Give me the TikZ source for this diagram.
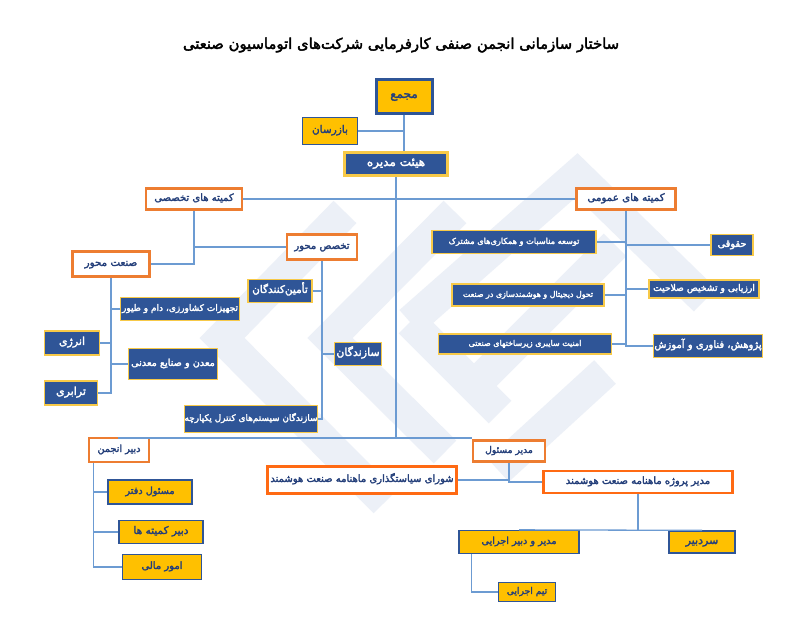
\documentclass[tikz,border=0pt]{standalone}
\usepackage{fontspec}
\usetikzlibrary{calc}
\TeXXeTstate=1
\newfontfamily\arfont[Script=Arabic, FakeBold=2.5]{DejaVu Sans}
\newcommand\fa[1]{{\arfont\beginR #1\endR}}
\definecolor{dblue}{HTML}{2F5597}
\definecolor{yel}{HTML}{FFC000}
\definecolor{gold}{HTML}{F7C948}
\definecolor{org}{HTML}{ED7D31}
\definecolor{org2}{HTML}{FF6A13}
\definecolor{lblue}{HTML}{6C9BD2}
\definecolor{txtb}{HTML}{243F7A}
\definecolor{wm}{HTML}{ECF0F7}
\tikzset{
  box/.style={inner sep=0pt, text height=0.68em, text depth=0.29em, font=\fontsize{9}{10}\selectfont},
  fs/.style={font=\fontsize{#1}{#1}\selectfont},
  yelbox/.style={box, fill=yel, draw=dblue, line width=1.3pt, text=txtb},
  blubox/.style={box, fill=dblue, draw=gold, line width=1.6pt, text=white},
  orgbox/.style={box, fill=white, draw=org, line width=2.5pt, text=txtb},
  orgbox2/.style={box, fill=white, draw=org2, line width=2.6pt, text=txtb},
  conn/.style={draw=lblue, line width=1.3pt},
  wmband/.style={draw=wm, line width=32pt, line join=miter, line cap=butt}
}
\begin{document}
\begin{tikzpicture}[x=1pt,y=-1pt]
\useasboundingbox (0,0) rectangle (800,618);
\fill[white] (0,0) rectangle (800,618);
% watermark
\draw[wmband] (345,212) -- (222,338) -- (385,502);
\draw[wmband] (455,212) -- (330,338) -- (445,452);
\draw[wmband] (410,322) -- (577,175) -- (705,300);
\draw[wmband] (410,322) -- (500,412);
\draw[wmband] (615,245) -- (485,375);
\draw[wmband] (605,372) -- (498,470);
% title
\node[fs=14.8] (title) at (401,45) {\fa{ساختار سازمانی انجمن صنفی کارفرمایی شرکت‌های اتوماسیون صنعتی}};
% nodes
\node[yelbox, fs=12, line width=3pt, minimum width=56pt, minimum height=34pt] (majma) at (404,96) {\fa{مجمع}};
\node[yelbox, fs=10.5, minimum width=55pt, minimum height=27pt] (bazr) at (330,131) {\fa{بازرسان}};
\node[blubox, fs=12, line width=3.5pt, minimum width=103pt, minimum height=23pt] (hey) at (396,164) {\fa{هیئت مدیره}};
\node[orgbox, fs=10, minimum width=96pt, minimum height=21pt] (komT) at (194,199) {\fa{کمیته های تخصصی}};
\node[orgbox, fs=10.3, minimum width=99pt, minimum height=21pt] (komO) at (626,199) {\fa{کمیته های عمومی}};
\node[orgbox, fs=10, minimum width=70pt, minimum height=25pt] (takh) at (322,247) {\fa{تخصص محور}};
\node[orgbox, fs=10.3, minimum width=77pt, minimum height=25pt] (sanat) at (111,264) {\fa{صنعت محور}};
\node[blubox, fs=10.5, minimum width=64pt, minimum height=23pt] (tamin) at (280,291) {\fa{تأمین‌کنندگان}};
\node[blubox, fs=9, minimum width=119pt, minimum height=23pt] (tajh) at (180,309) {\fa{تجهیزات کشاورزی، دام و طیور}};
\node[blubox, fs=11, minimum width=55pt, minimum height=24pt] (energy) at (72,343) {\fa{انرژی}};
\node[blubox, fs=9.7, minimum width=89pt, minimum height=31pt] (madan) at (173,364) {\fa{معدن و صنایع معدنی}};
\node[blubox, fs=11, minimum width=53pt, minimum height=24pt] (tarab) at (71,393) {\fa{ترابری}};
\node[blubox, fs=11, minimum width=47pt, minimum height=23pt] (saz) at (358,354) {\fa{سازندگان}};
\node[blubox, fs=8.9, minimum width=133pt, minimum height=27pt] (sazsys) at (251,419) {\fa{سازندگان سیستم‌های کنترل یکپارچه}};
\node[blubox, fs=8.2, minimum width=164pt, minimum height=23pt] (tose) at (514,242) {\fa{توسعه مناسبات و همکاری‌های مشترک}};
\node[blubox, fs=7.9, minimum width=152pt, minimum height=22pt] (tahav) at (528,295) {\fa{تحول دیجیتال و هوشمندسازی در صنعت}};
\node[blubox, fs=8, minimum width=173pt, minimum height=20pt] (amn) at (525,344) {\fa{امنیت سایبری زیرساختهای صنعتی}};
\node[blubox, fs=9.8, minimum width=42pt, minimum height=21pt] (hoq) at (732,245) {\fa{حقوقی}};
\node[blubox, fs=9.2, minimum width=110pt, minimum height=18pt] (arz) at (704,289) {\fa{ارزیابی و تشخیص صلاحیت}};
\node[blubox, fs=10, minimum width=109pt, minimum height=23pt] (pazh) at (708,346) {\fa{پژوهش، فناوری و آموزش}};
\node[orgbox, fs=9.2, minimum width=72pt, minimum height=21pt] (modmas) at (509,451) {\fa{مدیر مسئول}};
\node[orgbox2, fs=10, minimum width=189pt, minimum height=27pt] (shora) at (362,480) {\fa{شورای سیاستگذاری ماهنامه صنعت هوشمند}};
\node[orgbox2, fs=10, minimum width=189pt, minimum height=22pt] (modpro) at (638,482) {\fa{مدیر پروژه ماهنامه صنعت هوشمند}};
\node[orgbox, fs=9.7, minimum width=60pt, minimum height=24pt] (dabir) at (119,450) {\fa{دبیر انجمن}};
\node[yelbox, fs=9.7, minimum width=84pt, minimum height=24pt] (masd) at (150,492) {\fa{مسئول دفتر}};
\node[yelbox, fs=10.5, minimum width=84pt, minimum height=23pt] (dabk) at (161,532) {\fa{دبیر کمیته ها}};
\node[yelbox, fs=10, minimum width=79pt, minimum height=25pt] (omur) at (162,567) {\fa{امور مالی}};
\node[yelbox, fs=9.7, minimum width=120pt, minimum height=23pt] (modej) at (519,542) {\fa{مدیر و دبیر اجرایی}};
\node[yelbox, fs=11, minimum width=66pt, minimum height=22pt] (sardab) at (702,542) {\fa{سردبیر}};
\node[yelbox, fs=9.2, minimum width=57pt, minimum height=19pt] (team) at (527,592) {\fa{تیم اجرایی}};
% connector coordinates
\coordinate (j1) at (hey.south |- 0,438);
\coordinate (dv) at ($(dabir.south west)+(6,0)$);
\coordinate (ev) at ($(modej.south west)+(13,0)$);
% connectors
\draw[conn] (majma.south) -- (majma.south |- hey.north);
\draw[conn] (bazr.east) -- (bazr.east -| majma.south);
\draw[conn] (hey.south) -- (j1) -- (j1 -| modmas.west);
\draw[conn] (j1) -- (j1 -| dabir.north) -- (dabir.north);
\draw[conn] (komT.east) -- (komO.west);
\draw[conn] (komT.south) |- (sanat.east);
\draw[conn] (komT.south |- takh.west) -- (takh.west);
\draw[conn] (sanat.south) |- (tarab.east);
\draw[conn] (energy.east) -- (energy.east -| sanat.south);
\draw[conn] (tajh.west) -- (tajh.west -| sanat.south);
\draw[conn] (madan.west) -- (madan.west -| sanat.south);
\draw[conn] (takh.south) |- (sazsys.east);
\draw[conn] (tamin.east) -- (tamin.east -| takh.south);
\draw[conn] (saz.west) -- (saz.west -| takh.south);
\draw[conn] (komO.south) |- (pazh.west);
\draw[conn] (tose.east) -- (tose.east -| komO.south);
\draw[conn] (hoq.west) -- (hoq.west -| komO.south);
\draw[conn] (tahav.east) -- (tahav.east -| komO.south);
\draw[conn] (arz.west) -- (arz.west -| komO.south);
\draw[conn] (amn.east) -- (amn.east -| komO.south);
\draw[conn] (modmas.south) |- (modpro.west);
\draw[conn] (shora.east) -- (shora.east -| modmas.south);
\draw[conn] (modpro.south) -- (modpro.south |- modej.north);
\draw[conn] (modej.north) -- (sardab.north);
\draw[conn] (ev) |- (team.west);
\draw[conn] (dv) |- (omur.west);
\draw[conn] (masd.west) -- (masd.west -| dv);
\draw[conn] (dabk.west) -- (dabk.west -| dv);
\end{tikzpicture}
\end{document}
